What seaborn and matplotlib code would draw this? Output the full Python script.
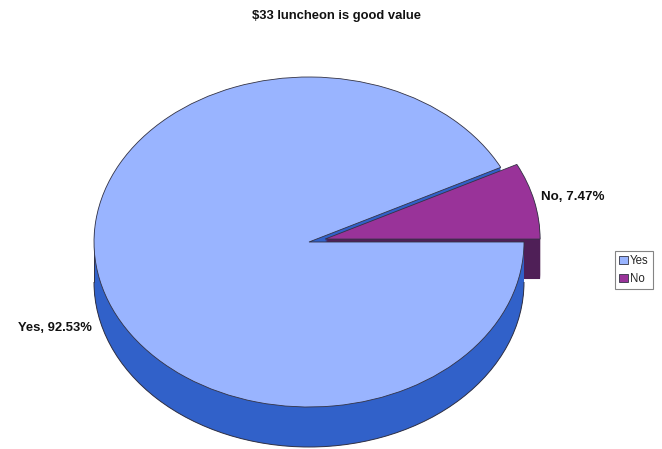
import matplotlib
matplotlib.use('Agg')
import matplotlib.pyplot as plt
from matplotlib.patches import Arc
import seaborn as sns

sns.set_theme(style="white")
plt.rcParams['font.family'] = ['Liberation Sans', 'DejaVu Sans']

title = '\\$33 luncheon is good value'
categories = ['No', 'Yes']
values = [7.47, 92.53]
legend_order = ['Yes', 'No']

top_colors = ['#993399', '#99B4FF']
wall_colors = ['#4F1F57', '#3161C9']
edge = '#333344'

W, H = 662, 449
RX, RY = 215, 165   # ellipse radii in pixels
CX, CY = 309, 242   # pie centre in pixels
DEPTH = 40

fig = plt.figure(figsize=(W / 100, H / 100), dpi=100)
ax = fig.add_axes([0, 0, 1, 1])


def draw_pie(drop, colors, **wedge_kw):
    # one pie call, pushed down by "drop" pixels; the No slice is pulled out
    wedges, _ = ax.pie(values, colors=colors, startangle=0, explode=[0.077, 0],
                       center=(0, -drop / RY), radius=1, wedgeprops=wedge_kw)
    return wedges


# side walls, stacked from the bottom up
for drop in range(DEPTH, 0, -1):
    no_w, yes_w = draw_pie(drop, wall_colors, linewidth=0)
    yes_w.set_zorder(1)
    no_w.set_zorder(2)
    # front part of the Yes wall sits in front of the No wall
    front = draw_pie(drop, wall_colors, linewidth=0)
    front[0].remove()
    front[1].set_theta1(180)
    front[1].set_zorder(3)

# outline of the bottom rim
ax.add_patch(Arc((0, -DEPTH / RY), 2, 2, theta1=180, theta2=360,
                 color=edge, lw=0.7, zorder=3.5))
ax.plot([-1, -1], [0, -DEPTH / RY], color=edge, lw=0.7, zorder=3.5)

no_top, yes_top = draw_pie(0, top_colors, linewidth=0.6, edgecolor=edge)
no_top.set_zorder(4)
yes_top.set_zorder(5)

ax.set_aspect('auto')
ax.set_xlim(-CX / RX, (W - CX) / RX)
ax.set_ylim((CY - H) / RY, CY / RY)

fig.text(336 / W, 1 - 15.5 / H, title, ha='center', va='center',
         fontsize=9.4, fontweight='bold', color='#111111')
labels = [f'{c}, {v}%' for c, v in zip(categories, values)]
fig.text(541 / W, 1 - 197 / H, labels[0], ha='left', va='center',
         fontsize=9.6, fontweight='bold', color='#111111')
fig.text(18 / W, 1 - 328 / H, labels[1], ha='left', va='center',
         fontsize=9.4, fontweight='bold', color='#111111')

handles = [yes_top, no_top]
leg = ax.legend(handles, legend_order, loc='upper left',
                bbox_to_anchor=(615 / W, 1 - 251 / H), bbox_transform=fig.transFigure,
                fontsize=8.3, frameon=True, fancybox=False, borderaxespad=0,
                borderpad=0.35, handlelength=0.75, handleheight=0.75,
                handletextpad=0.2, labelspacing=0.5)
leg.get_frame().set_edgecolor('#666666')
leg.get_frame().set_linewidth(0.8)

fig.savefig('out.png', dpi=100)
